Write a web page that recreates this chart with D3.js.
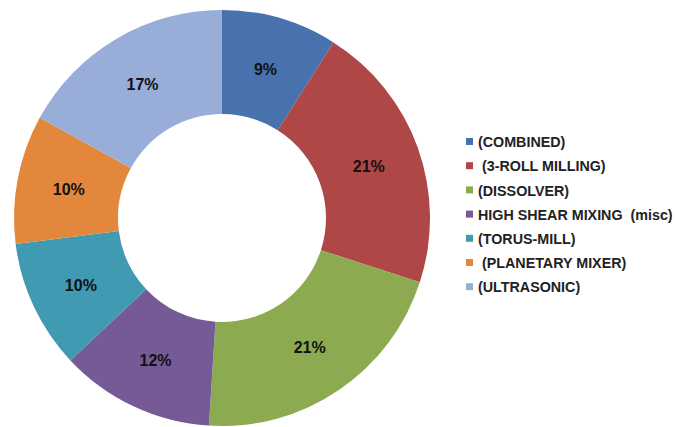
<!DOCTYPE html>
<html>
<head>
<meta charset="utf-8">
<script src="https://cdn.jsdelivr.net/npm/d3@7"></script>
<style>
  html, body { margin: 0; padding: 0; background: #fff; }
  svg { display: block; }
</style>
</head>
<body>
<div id="chart"></div>
<script>
// data
const categories = ["(COMBINED)", " (3-ROLL MILLING)", "(DISSOLVER)", "HIGH SHEAR MIXING  (misc)",
                    "(TORUS-MILL)", " (PLANETARY MIXER)", "(ULTRASONIC)"];
const shares = [9, 21, 21, 12, 10, 10, 17];
const sliceColors = ["#4872AE", "#AE4746", "#8CAA50", "#765A95", "#3F9AB2", "#E3873D", "#98ADD7"];

const width = 677, height = 427;
const cx = 222, cy = 218;
const outerR = 208, innerR = 104;

const svg = d3.select("#chart").append("svg")
    .attr("width", width)
    .attr("height", height);

const color = d3.scaleOrdinal().domain(categories).range(sliceColors);

const pie = d3.pie().sort(null).value(d => d.value);
const arc = d3.arc().innerRadius(innerR).outerRadius(outerR);

const rows = categories.map((c, i) => ({ name: c, value: shares[i] }));

const g = svg.append("g").attr("transform", `translate(${cx},${cy})`);

const slices = g.selectAll("g.slice")
    .data(pie(rows))
    .enter().append("g")
    .attr("class", "slice");

slices.append("path")
    .attr("d", arc)
    .attr("fill", d => color(d.data.name));

slices.append("text")
    .attr("transform", d => `translate(${arc.centroid(d)})`)
    .attr("text-anchor", "middle")
    .attr("dy", "0.4em")
    .style("font-family", "'Liberation Sans', Arial, sans-serif")
    .style("font-weight", "bold")
    .style("font-size", "16px")
    .style("fill", "#111")
    .text(d => d.data.value + "%");

// legend
const legend = svg.append("g").attr("transform", "translate(466,142)");
const item = legend.selectAll("g")
    .data(categories)
    .enter().append("g")
    .attr("transform", (d, i) => `translate(0,${i * 24.2})`);

item.append("rect")
    .attr("x", 0).attr("y", -4)
    .attr("width", 7).attr("height", 7)
    .attr("fill", d => color(d));

item.append("text")
    .attr("x", 12)
    .attr("dy", "0.36em")
    .attr("xml:space", "preserve")
    .style("white-space", "pre")
    .style("font-family", "'Liberation Sans', Arial, sans-serif")
    .style("font-weight", "bold")
    .style("font-size", "14.3px")
    .style("fill", "#222")
    .text(d => d);
</script>
</body>
</html>
